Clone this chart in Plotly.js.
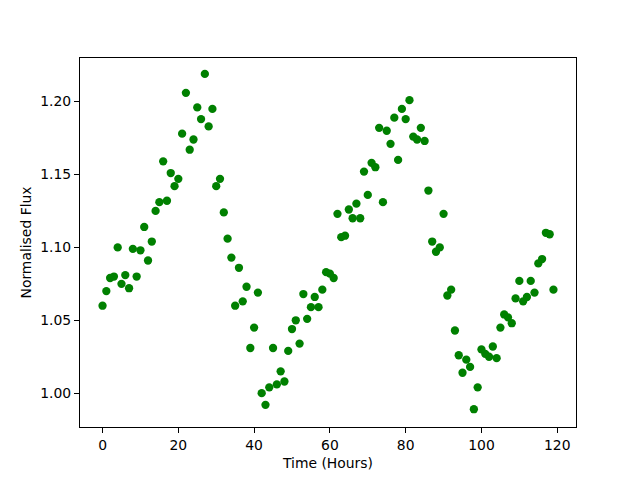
<!DOCTYPE html>
<html>
<head>
<meta charset="utf-8">
<script src="https://cdn.plot.ly/plotly-3.0.1.min.js"></script>
<style>html,body{margin:0;padding:0;background:#fff;}#chart{width:640px;height:480px;}</style>
</head>
<body>
<div id="chart"></div>
<script>
// Time in hours (one reading per hour)
const hours = [];
for (let i = 0; i < 120; i++) hours.push(i);

// Normalised flux values
const flux = [
  1.060, 1.070, 1.079, 1.080, 1.100, 1.075, 1.081, 1.072, 1.099, 1.080,
  1.098, 1.114, 1.091, 1.104, 1.125, 1.131, 1.159, 1.132, 1.151, 1.142,
  1.147, 1.178, 1.206, 1.167, 1.174, 1.196, 1.188, 1.219, 1.183, 1.195,
  1.142, 1.147, 1.124, 1.106, 1.093, 1.060, 1.086, 1.063, 1.073, 1.031,
  1.045, 1.069, 1.000, 0.992, 1.004, 1.031, 1.006, 1.015, 1.008, 1.029,
  1.044, 1.050, 1.034, 1.068, 1.051, 1.059, 1.066, 1.059, 1.071, 1.083,
  1.082, 1.079, 1.123, 1.107, 1.108, 1.126, 1.120, 1.130, 1.120, 1.152,
  1.136, 1.158, 1.155, 1.182, 1.131, 1.180, 1.171, 1.189, 1.160, 1.195,
  1.188, 1.201, 1.176, 1.174, 1.182, 1.173, 1.139, 1.104, 1.097, 1.100,
  1.123, 1.067, 1.071, 1.043, 1.026, 1.014, 1.023, 1.018, 0.989, 1.004,
  1.030, 1.027, 1.025, 1.032, 1.024, 1.045, 1.054, 1.052, 1.048, 1.065,
  1.077, 1.063, 1.066, 1.077, 1.069, 1.089, 1.092, 1.110, 1.109, 1.071
];

const xTicks = [0, 20, 40, 60, 80, 100, 120];
const yTicks = [1.00, 1.05, 1.10, 1.15, 1.20];

const font = {family: 'DejaVu Sans, sans-serif', size: 13.9, color: '#000'};

const trace = {
  x: hours,
  y: flux,
  type: 'scatter',
  mode: 'markers',
  marker: {color: 'green', size: 8.3, line: {width: 0}},
  hoverinfo: 'skip'
};

const layout = {
  width: 640,
  height: 480,
  margin: {l: 80, r: 64, t: 58, b: 53, pad: 0},
  paper_bgcolor: '#fff',
  plot_bgcolor: '#fff',
  showlegend: false,
  font: font,
  xaxis: {
    range: [-5.95, 124.95],
    tickvals: xTicks,
    ticktext: xTicks.map(String),
    ticks: 'outside', ticklen: 5, tickwidth: 1, tickcolor: '#000',
    showline: true, mirror: true, linecolor: '#000', linewidth: 1,
    showgrid: false, zeroline: false,
    tickfont: font,
    title: {text: 'Time (Hours)', font: font, standoff: 6},
    automargin: false
  },
  yaxis: {
    range: [0.9768, 1.2299],
    tickvals: yTicks,
    ticktext: yTicks.map(v => v.toFixed(2)),
    ticks: 'outside', ticklen: 5, tickwidth: 1, tickcolor: '#000',
    showline: true, mirror: true, linecolor: '#000', linewidth: 1,
    showgrid: false, zeroline: false,
    tickfont: font,
    title: {text: 'Normalised Flux', font: font, standoff: 5},
    automargin: false
  }
};

Plotly.newPlot('chart', [trace], layout, {staticPlot: true, displayModeBar: false});
</script>
</body>
</html>
